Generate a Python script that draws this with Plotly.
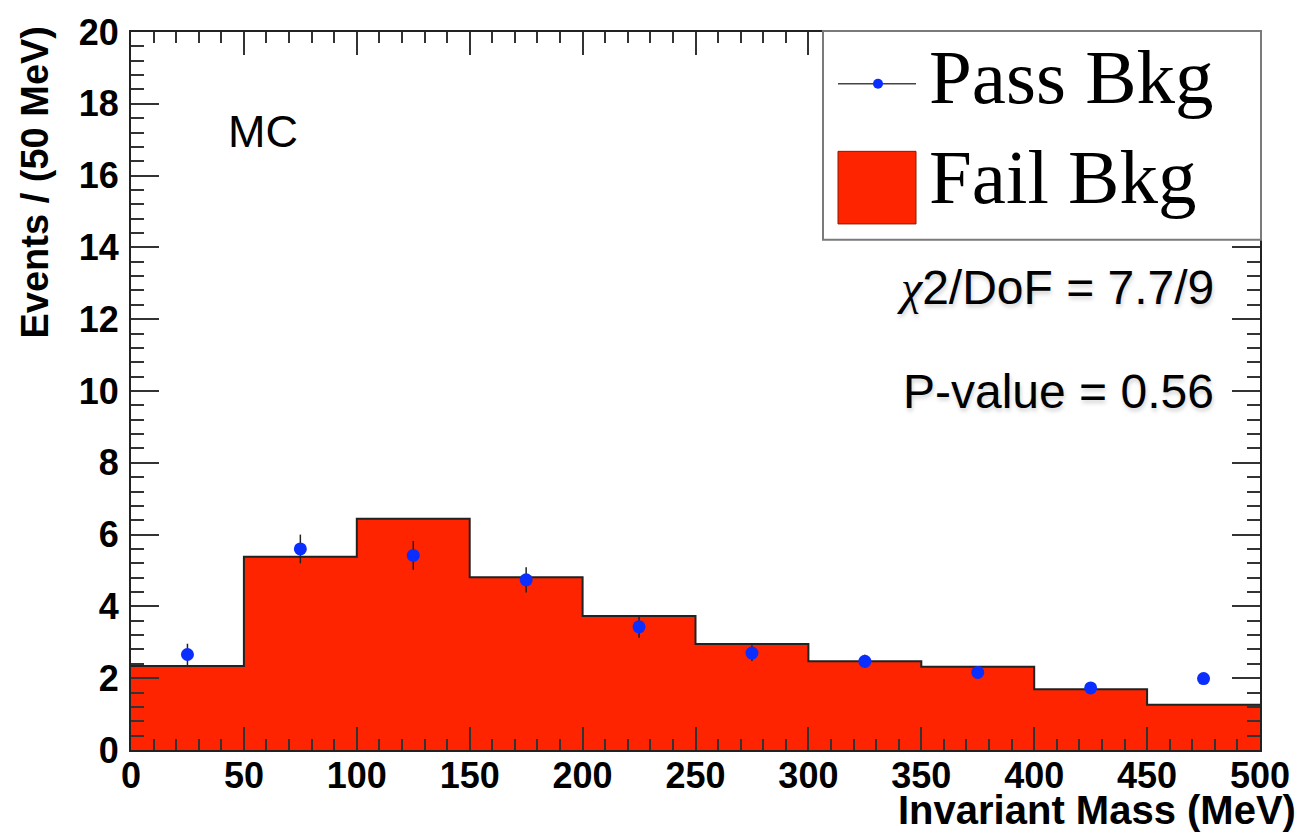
import plotly.graph_objects as go

# ---- data ----
bin_edges = [0, 50, 100, 150, 200, 250, 300, 350, 400, 450, 500]
bin_centers = [25, 75, 125, 175, 225, 275, 325, 375, 425, 475]
fail_bkg = [2.34, 5.38, 6.44, 4.81, 3.73, 2.95, 2.47, 2.32, 1.69, 1.26]
pass_bkg = [2.66, 5.60, 5.42, 4.74, 3.43, 2.70, 2.47, 2.16, 1.73, 1.99]
pass_err = [0.30, 0.40, 0.40, 0.35, 0.30, 0.22, 0.18, 0.15, 0.12, 0.10]
y_ticks = [0, 2, 4, 6, 8, 10, 12, 14, 16, 18, 20]
x_ticks = [0, 50, 100, 150, 200, 250, 300, 350, 400, 450, 500]

RED = "#FF2400"
BLUE = "#0A2EFF"

W, H = 1312, 833
L, R, T, B = 131, 52, 28, 83
PW, PH = W - L - R, H - T - B


def px(x):
    return (x - L) / PW


def py(y):
    return (H - B - y) / PH


fig = go.Figure()

fig.add_trace(go.Bar(
    x=bin_centers, y=fail_bkg, width=50,
    marker=dict(color=RED, line=dict(width=0)),
    name="Fail Bkg", showlegend=False, hoverinfo="skip",
))
fig.add_trace(go.Scatter(
    x=bin_edges, y=fail_bkg + [fail_bkg[-1]],
    mode="lines", line=dict(shape="hv", color="#222222", width=2),
    showlegend=False, hoverinfo="skip",
))
fig.add_trace(go.Scatter(
    x=bin_centers, y=pass_bkg, mode="markers",
    marker=dict(color=BLUE, size=13),
    error_y=dict(type="data", array=pass_err, color="#222222", thickness=1.5, width=0),
    name="Pass Bkg", showlegend=False,
))

tickfont_b = dict(family="Liberation Sans", size=36, color="black", weight="bold")
fig.update_xaxes(
    range=[0, 500], tickvals=x_ticks, ticktext=[str(v) for v in x_ticks],
    ticks="inside", ticklen=23, tickwidth=2, tickcolor="#333333",
    minor=dict(ticks="inside", ticklen=11, tickwidth=2, tickcolor="#333333", dtick=10, showgrid=False),
    showline=True, linecolor="#222222", linewidth=2, mirror="allticks",
    showgrid=False, zeroline=False, tickfont=tickfont_b, ticklabelstandoff=-7,
)
fig.update_yaxes(
    range=[0, 20], tickvals=y_ticks, ticktext=[str(v) for v in y_ticks],
    ticks="inside", ticklen=28, tickwidth=2, tickcolor="#333333",
    minor=dict(ticks="inside", ticklen=13, tickwidth=2, tickcolor="#333333", dtick=0.4, showgrid=False),
    showline=True, linecolor="#222222", linewidth=2, mirror="allticks",
    showgrid=False, zeroline=False, tickfont=tickfont_b, ticklabelstandoff=3,
)

shapes = []
annotations = []

# legend box
shapes.append(dict(type="rect", xref="paper", yref="paper",
                   x0=px(823), x1=px(1261), y0=py(237), y1=py(27),
                   fillcolor="white", line=dict(color="#7a7a7a", width=2), layer="above"))
# Pass symbol
shapes.append(dict(type="line", xref="paper", yref="paper",
                   x0=px(838), x1=px(916), y0=py(80), y1=py(80),
                   line=dict(color="#444444", width=1.5), layer="above"))
shapes.append(dict(type="circle", xref="paper", yref="paper",
                   x0=px(873), x1=px(883), y0=py(85), y1=py(75),
                   fillcolor=BLUE, line=dict(color=BLUE, width=0), layer="above"))
# Fail symbol
shapes.append(dict(type="rect", xref="paper", yref="paper",
                   x0=px(838), x1=px(916), y0=py(221), y1=py(148),
                   fillcolor=RED, line=dict(color="#8a1a00", width=1), layer="above"))

serif = dict(family="Liberation Serif", size=77, color="black")
annotations.append(dict(text="Pass Bkg", xref="paper", yref="paper", x=px(927), y=py(73),
                        xanchor="left", yanchor="middle", showarrow=False, font=serif))
annotations.append(dict(text="Fail Bkg", xref="paper", yref="paper", x=px(927), y=py(174),
                        xanchor="left", yanchor="middle", showarrow=False, font=serif))

sans = dict(family="Liberation Sans", size=48, color="black", shadow="1px 3px 4px rgba(0,0,0,0.18)")
annotations.append(dict(text="MC", xref="paper", yref="paper", x=px(226), y=py(128),
                        xanchor="left", yanchor="middle", showarrow=False,
                        font=dict(family="Liberation Sans", size=45, color="black")))
annotations.append(dict(text="<span style=\"font-family:'Liberation Serif'\"><i>χ</i></span>2/DoF = 7.7/9",
                        xref="paper", yref="paper", x=px(1216), y=py(285),
                        xanchor="right", yanchor="middle", showarrow=False, font=sans))
annotations.append(dict(text="P-value = 0.56", xref="paper", yref="paper", x=px(1216), y=py(390),
                        xanchor="right", yanchor="middle", showarrow=False, font=sans))

annotations.append(dict(text="<b>Invariant Mass (MeV)</b>", xref="paper", yref="paper",
                        x=px(1298), y=py(810), xanchor="right", yanchor="middle",
                        showarrow=False, font=dict(family="Liberation Sans", size=40, color="black")))
annotations.append(dict(text="<b>Events / (50 MeV)</b>", xref="paper", yref="paper",
                        x=px(35), y=py(20), xanchor="center", yanchor="top", textangle=-90,
                        showarrow=False, font=dict(family="Liberation Sans", size=38, color="black")))

fig.update_layout(
    width=W, height=H,
    margin=dict(l=L, r=R, t=T, b=B),
    plot_bgcolor="white", paper_bgcolor="white",
    bargap=0, showlegend=False,
    shapes=shapes, annotations=annotations,
)

fig.write_html("out.html")
